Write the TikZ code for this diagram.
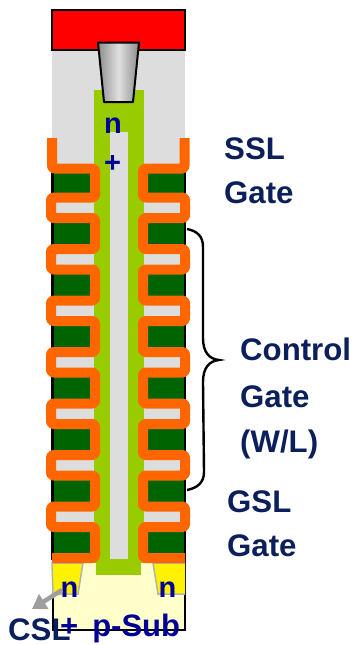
\documentclass[tikz,border=0pt]{standalone}
\usepackage{fontspec}
\setmainfont{Liberation Sans}
\usetikzlibrary{arrows.meta}
\definecolor{lblnavy}{RGB}{10,31,92}
\definecolor{dopeblue}{RGB}{0,0,150}
\definecolor{orangeb}{RGB}{255,102,0}
\definecolor{chgreen}{RGB}{153,204,0}
\definecolor{gategreen}{RGB}{0,100,0}
\definecolor{oxgray}{RGB}{221,221,221}
\definecolor{subyellow}{RGB}{255,255,204}
\tikzset{
  lbl/.style={anchor=base west,inner sep=0pt,text=lblnavy,font=\fontsize{31.2}{31}\selectfont\bfseries},
  dope/.style={anchor=base west,inner sep=0pt,text=dopeblue,font=\fontsize{29}{29}\selectfont\bfseries},
  dopewide/.style={anchor=base west,inner sep=0pt,text=dopeblue,font=\fontsize{31}{31}\selectfont\bfseries},
  liner/.style={draw=orangeb,line width=10pt,line join=round,rounded corners=2.5pt},
  ndiff/.style={fill=yellow,draw=black!30,line width=1.5pt},
  outl/.style={draw=black,line width=2pt}
}
\begin{document}
\begin{tikzpicture}[x=1pt,y=-1pt]
\useasboundingbox (0,0) rectangle (353,645);
% oxide background
\fill[oxgray] (52,50) rectangle (185,170);
% substrate
\fill[subyellow] (52,560) rectangle (185,630);
\draw[black,line width=2pt] (52.5,560) -- (52.5,630) -- (185,630) -- (185,560);
\draw[ndiff] (52,563) -- (83,563) -- (78,594) -- (53,594) -- cycle;
\draw[ndiff] (185,563) -- (153,563) -- (158,594) -- (185,594);
% gate stack
\draw[black,line width=2.5pt] (52.5,165) -- (52.5,560);
\draw[black,line width=2.5pt] (185,165) -- (185,560);
\fill[gategreen] (54,168.5) rectangle (95,197.5);
\fill[gategreen] (143,168.5) rectangle (184,197.5);
\foreach \k in {0,...,6}{
  \fill[gategreen] (54,218+51.5*\k) rectangle (95,249+51.5*\k);
  \fill[gategreen] (143,218+51.5*\k) rectangle (184,249+51.5*\k);
}
\foreach \k in {0,...,6}{
  \fill[oxgray] (52,197.5+51.5*\k) rectangle (95,218+51.5*\k);
  \fill[oxgray] (143,197.5+51.5*\k) rectangle (185,218+51.5*\k);
}
% channel
\fill[chgreen] (94,90) rectangle (144,563);
\fill[chgreen] (96,560) rectangle (141,575);
\fill[oxgray] (110,132) rectangle (128,559);
% orange liners
\draw[liner] (52,138) -- (52,168.5) -- (95,168.5) -- (95,197.5)
  -- (51,197.5) -- (51,218) -- (95,218) -- (95,249)
  -- (51,249) -- (51,269.5) -- (95,269.5) -- (95,300.5)
  -- (51,300.5) -- (51,321) -- (95,321) -- (95,352)
  -- (51,352) -- (51,372.5) -- (95,372.5) -- (95,403.5)
  -- (51,403.5) -- (51,424) -- (95,424) -- (95,455)
  -- (51,455) -- (51,475.5) -- (95,475.5) -- (95,506.5)
  -- (51,506.5) -- (51,527) -- (95,527) -- (95,558) -- (52,558);
\draw[liner] (184.5,138) -- (184.5,168.5) -- (143,168.5) -- (143,197.5)
  -- (185,197.5) -- (185,218) -- (143,218) -- (143,249)
  -- (185,249) -- (185,269.5) -- (143,269.5) -- (143,300.5)
  -- (185,300.5) -- (185,321) -- (143,321) -- (143,352)
  -- (185,352) -- (185,372.5) -- (143,372.5) -- (143,403.5)
  -- (185,403.5) -- (185,424) -- (143,424) -- (143,455)
  -- (185,455) -- (185,475.5) -- (143,475.5) -- (143,506.5)
  -- (185,506.5) -- (185,527) -- (143,527) -- (143,558) -- (185,558);
% bit line and contact
\fill[red] (52,9.5) rectangle (185,50);
\draw[outl] (98,50) -- (52,50) -- (52,9.5) -- (185,9.5) -- (185,50) -- (139,50);
\shade[left color=black!45,right color=black!45,middle color=black!12]
  (98,42.5) -- (139,42.5) -- (133,102) -- (104,102) -- cycle;
\draw[outl,line join=round] (98,42.5) -- (139,42.5) -- (133,102) -- (104,102) -- cycle;
% brace
\draw[black,line width=2.4pt] (187,229) .. controls (197,231) and (203,236) .. (203,247)
  -- (203,338) .. controls (203,352) and (209,359) .. (219,360)
  .. controls (209,361) and (203,368) .. (203,382)
  -- (204,472) .. controls (204,483) and (197,488) .. (187,490);
% doping labels
\node[dope] (ndrain) at (104,133) {n};
\node[dope] (pdrain) at (104,172) {+};
\node[dope] (nleft) at (60.5,597) {n};
\node[dope] (nright) at (158.5,597) {n};
% CSL
\coordinate (cslstart) at (62,590);
\coordinate (cslend) at (32,609);
\draw[-{Triangle[length=14pt,width=17pt]},draw=black!38,fill=black!38,line width=4.5pt] (cslstart) -- (cslend);
\node[lbl] (csl) at (8,640) {CSL};
\node[dopewide] (psub) at (60,636) {+\hspace{14pt}p-Sub};
% gate labels
\node[lbl] (ssl) at (224,159) {SSL};
\node[lbl] (sslg) at (224,203) {Gate};
\node[lbl] (cg1) at (240,360) {Control};
\node[lbl] (cg2) at (240,407) {Gate};
\node[lbl] (cg3) at (240,452) {(W/L)};
\node[lbl] (gsl) at (227,512) {GSL};
\node[lbl] (gslg) at (227,556) {Gate};
\end{tikzpicture}
\end{document}
